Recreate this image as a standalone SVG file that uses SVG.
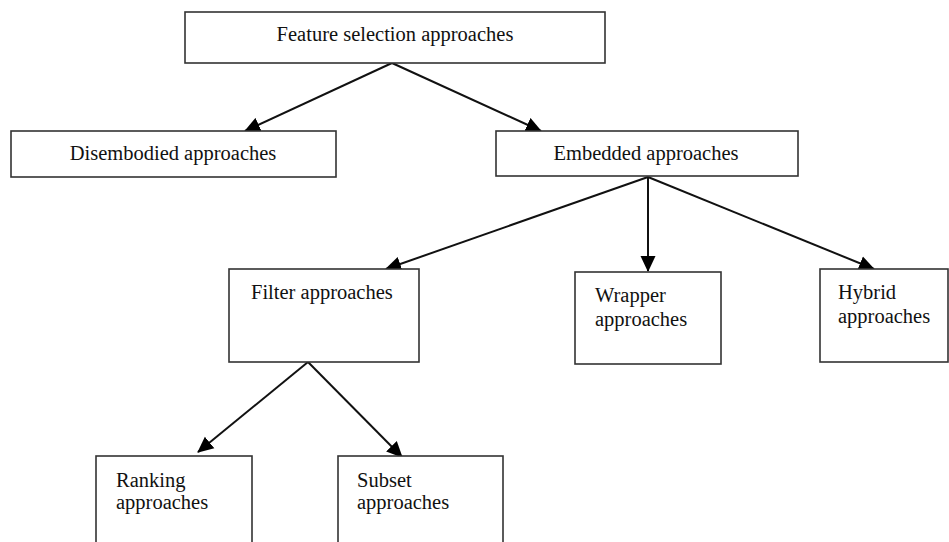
<svg xmlns="http://www.w3.org/2000/svg" width="949" height="542" viewBox="0 0 949 542">
<style>
.box{fill:#fff;stroke:#333;stroke-width:1.6}
.t{font-family:"Liberation Serif","Times New Roman",serif;font-size:20.5px;fill:#111}
.c{text-anchor:middle}
.edge{stroke:#111;stroke-width:2;fill:none;marker-end:url(#ah)}
</style>
<defs>
<marker id="ah" markerUnits="userSpaceOnUse" markerWidth="16" markerHeight="16" refX="15" refY="7.5" orient="auto" viewBox="0 0 16 15">
<path d="M0,0 L16,7.5 L0,15 z" fill="#000"/>
</marker>
</defs>
<rect width="949" height="542" fill="#fff"/>
<g id="connectors">
<line class="edge" x1="392" y1="63" x2="245" y2="131"/>
<line class="edge" x1="392" y1="63" x2="541" y2="131"/>
<line class="edge" x1="648" y1="177" x2="386" y2="269"/>
<line class="edge" x1="648" y1="177" x2="648" y2="271"/>
<line class="edge" x1="648" y1="177" x2="874" y2="269"/>
<line class="edge" x1="308" y1="362" x2="198" y2="452"/>
<line class="edge" x1="308" y1="362" x2="402" y2="457"/>
</g>
<g id="feature">
<rect class="box" x="185" y="12" width="420" height="51"/>
<text class="t c" x="395" y="41">Feature selection approaches</text>
</g>
<g id="disembodied">
<rect class="box" x="11" y="131" width="325" height="46"/>
<text class="t c" x="173" y="160">Disembodied approaches</text>
</g>
<g id="embedded">
<rect class="box" x="496" y="131" width="302" height="45"/>
<text class="t c" x="646" y="160">Embedded approaches</text>
</g>
<g id="filter">
<rect class="box" x="229" y="269" width="190" height="93"/>
<text class="t" x="251" y="299">Filter approaches</text>
</g>
<g id="wrapper">
<rect class="box" x="575" y="272" width="146" height="92"/>
<text class="t" x="595" y="302">Wrapper</text>
<text class="t" x="595" y="326">approaches</text>
</g>
<g id="hybrid">
<rect class="box" x="820" y="269" width="128" height="93"/>
<text class="t" x="838" y="299">Hybrid</text>
<text class="t" x="838" y="323">approaches</text>
</g>
<g id="ranking">
<rect class="box" x="96" y="456" width="156" height="100"/>
<text class="t" x="116" y="487">Ranking</text>
<text class="t" x="116" y="509">approaches</text>
</g>
<g id="subset">
<rect class="box" x="338" y="456" width="165" height="100"/>
<text class="t" x="357" y="487">Subset</text>
<text class="t" x="357" y="509">approaches</text>
</g>
</svg>
